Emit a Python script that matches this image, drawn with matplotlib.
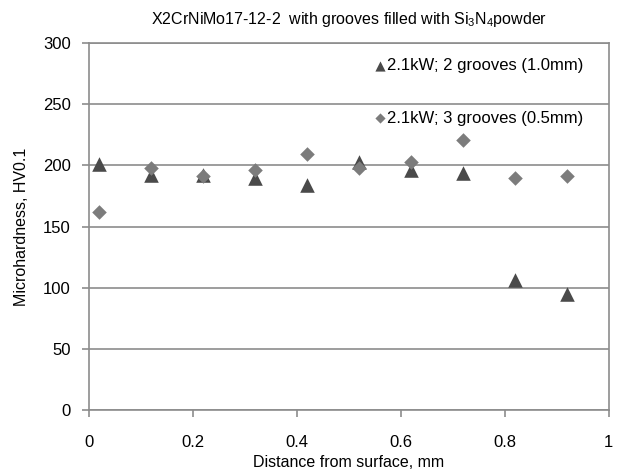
import numpy as np
import matplotlib.pyplot as plt

plt.rcParams['font.family'] = ['Liberation Sans', 'DejaVu Sans']
plt.rcParams['mathtext.fontset'] = 'custom'
plt.rcParams['mathtext.rm'] = 'Liberation Sans'

# distance from surface (mm) and microhardness readings
distance = [0.02, 0.12, 0.22, 0.32, 0.42, 0.52, 0.62, 0.72, 0.82, 0.92]
hv_2grooves = [201, 192, 192, 190, 184, 203, 196, 194, 106, 95]
hv_3grooves = [162, 198, 191, 196, 209, 198, 203, 221, 190, 191]

fig = plt.figure(figsize=(6.21, 4.76), dpi=100)
ax = fig.add_axes([0.143, 0.139, 0.837, 0.770])

ax.scatter(distance, hv_2grooves, marker='^', s=110, color='#4a4a4a',
           linewidths=0, zorder=3, label='2.1kW; 2 grooves (1.0mm)')
ax.scatter(distance, hv_3grooves, marker='D', s=55, color='#7c7c7c',
           linewidths=0, zorder=3, label='2.1kW; 3 grooves (0.5mm)')

ax.set_xlim(0, 1)
ax.set_ylim(0, 300)
ax.set_xticks(np.arange(0, 1.01, 0.2))
ax.set_xticklabels(['0', '0.2', '0.4', '0.6', '0.8', '1'])
ax.set_yticks(np.arange(0, 301, 50))
ax.yaxis.grid(True, color='#8c8c8c', linewidth=1.2)
ax.set_axisbelow(True)
for sp in ax.spines.values():
    sp.set_color('#8c8c8c')
    sp.set_linewidth(1.2)
ax.tick_params(colors='#8c8c8c', labelcolor='black', labelsize=12,
               length=5, width=1.2)
ax.tick_params(axis='x', pad=13)
ax.tick_params(axis='y', pad=8)

ax.set_title('X2CrNiMo17-12-2  with grooves filled with Si$_3$N$_4$powder',
             fontsize=11.5, pad=14)
ax.set_xlabel('Distance from surface, mm', fontsize=11.5, labelpad=4)
ax.set_ylabel('Microhardness, HV0.1', fontsize=11.5, labelpad=10)

leg = ax.legend(loc='upper right', bbox_to_anchor=(0.98, 1.0), frameon=False,
                fontsize=12, handlelength=0.6, handletextpad=0.1,
                labelspacing=2.25, scatterpoints=1, markerscale=0.7)

fig.savefig('out.png', dpi=100)
